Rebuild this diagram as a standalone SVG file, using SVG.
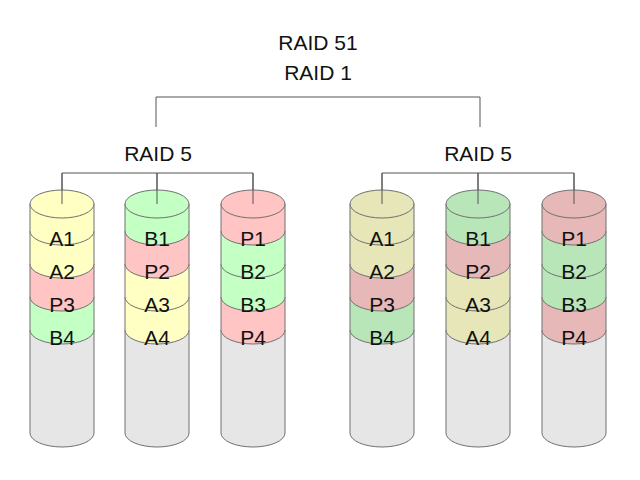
<svg xmlns="http://www.w3.org/2000/svg" width="640" height="480" viewBox="0 0 640 480">
<defs>
<style>
path,ellipse{stroke:#707070;stroke-width:1}
.g{fill:#e6e6e6}.y{fill:#ffffc4}.gr{fill:#c4ffc4}.r{fill:#ffc4c4}
.y2{fill:#e6e6b8}.gr2{fill:#b8e6b8}.r2{fill:#e6b8b8}
text{font-family:"Liberation Sans",Arial,sans-serif;font-size:21px;fill:#111;text-anchor:middle}
.c{fill:none;stroke:#555}
</style>
<path id="b0" d="M-32,330 L-32,433 A32 14 0 0 0 32,433 L32,330 Z"/>
<path id="b4" d="M-32,297 L-32,330 A32 14 0 0 0 32,330 L32,297 Z"/>
<path id="b3" d="M-32,264 L-32,297 A32 14 0 0 0 32,297 L32,264 Z"/>
<path id="b2" d="M-32,231 L-32,264 A32 14 0 0 0 32,264 L32,231 Z"/>
<path id="b1" d="M-32,204 L-32,231 A32 14 0 0 0 32,231 L32,204 Z"/>
</defs>
<g id="titles">
<text x="318" y="50">RAID 51</text>
<text x="318" y="80">RAID 1</text>
<text x="158" y="161">RAID 5</text>
<text x="478" y="161">RAID 5</text>
</g>
<g id="connectors">
<path class="c" d="M156,127 V97 H480 V127"/>
<path class="c" d="M62,204 V173 H253 V204 M157,173 V204"/>
<path class="c" d="M382,204 V173 H574 V204 M478,173 V204"/>
</g>
<g id="disk1" transform="translate(62,0)">
<use href="#b0" class="g"/><use href="#b4" class="gr"/><use href="#b3" class="r"/><use href="#b2" class="y"/><use href="#b1" class="y"/>
<ellipse cx="0" cy="204" rx="32" ry="14" class="y"/><path class="c" d="M0,173 V204"/>
<text x="0" y="246">A1</text><text x="0" y="279">A2</text><text x="0" y="312">P3</text><text x="0" y="345">B4</text>
</g>
<g id="disk2" transform="translate(157,0)">
<use href="#b0" class="g"/><use href="#b4" class="y"/><use href="#b3" class="y"/><use href="#b2" class="r"/><use href="#b1" class="gr"/>
<ellipse cx="0" cy="204" rx="32" ry="14" class="gr"/><path class="c" d="M0,173 V204"/>
<text x="0" y="246">B1</text><text x="0" y="279">P2</text><text x="0" y="312">A3</text><text x="0" y="345">A4</text>
</g>
<g id="disk3" transform="translate(253,0)">
<use href="#b0" class="g"/><use href="#b4" class="r"/><use href="#b3" class="gr"/><use href="#b2" class="gr"/><use href="#b1" class="r"/>
<ellipse cx="0" cy="204" rx="32" ry="14" class="r"/><path class="c" d="M0,173 V204"/>
<text x="0" y="246">P1</text><text x="0" y="279">B2</text><text x="0" y="312">B3</text><text x="0" y="345">P4</text>
</g>
<g id="disk4" transform="translate(382,0)">
<use href="#b0" class="g"/><use href="#b4" class="gr2"/><use href="#b3" class="r2"/><use href="#b2" class="y2"/><use href="#b1" class="y2"/>
<ellipse cx="0" cy="204" rx="32" ry="14" class="y2"/><path class="c" d="M0,173 V204"/>
<text x="0" y="246">A1</text><text x="0" y="279">A2</text><text x="0" y="312">P3</text><text x="0" y="345">B4</text>
</g>
<g id="disk5" transform="translate(478,0)">
<use href="#b0" class="g"/><use href="#b4" class="y2"/><use href="#b3" class="y2"/><use href="#b2" class="r2"/><use href="#b1" class="gr2"/>
<ellipse cx="0" cy="204" rx="32" ry="14" class="gr2"/><path class="c" d="M0,173 V204"/>
<text x="0" y="246">B1</text><text x="0" y="279">P2</text><text x="0" y="312">A3</text><text x="0" y="345">A4</text>
</g>
<g id="disk6" transform="translate(574,0)">
<use href="#b0" class="g"/><use href="#b4" class="r2"/><use href="#b3" class="gr2"/><use href="#b2" class="gr2"/><use href="#b1" class="r2"/>
<ellipse cx="0" cy="204" rx="32" ry="14" class="r2"/><path class="c" d="M0,173 V204"/>
<text x="0" y="246">P1</text><text x="0" y="279">B2</text><text x="0" y="312">B3</text><text x="0" y="345">P4</text>
</g>
</svg>
